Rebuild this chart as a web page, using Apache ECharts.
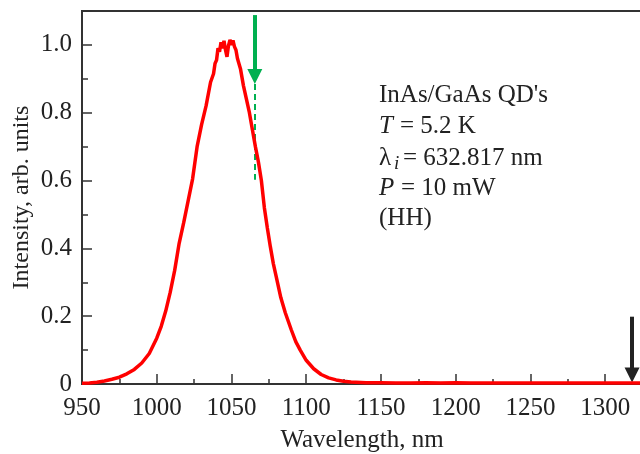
<!DOCTYPE html>
<html>
<head>
<meta charset="utf-8">
<script src="https://cdn.jsdelivr.net/npm/echarts@6/dist/echarts.min.js"></script>
<style>
html,body{margin:0;padding:0;background:#fff;}
#chart{width:640px;height:454px;}
</style>
</head>
<body>
<div id="chart"></div>
<script>
// ---- data ----
var wavelength = [950,955,960,965,970,975,980,985,990,995,1000,1003,1006,1009,1012,1015,1018,1021,1024,1027,1030,1033,1036,1038,1039,1040,1041,1042,1043,1044,1045,1046,1047,1048,1049,1050,1051,1052,1053,1054,1056,1058,1060,1062,1064,1066,1068,1070,1072,1074,1076,1078,1080,1083,1086,1090,1093,1096,1100,1105,1110,1115,1120,1125,1130,1140,1150,1160,1170,1180,1190,1200,1210,1220,1240,1260,1280,1300,1320,1330];
var intensity = [0.002,0.003,0.005,0.009,0.014,0.02,0.03,0.043,0.062,0.09,0.135,0.17,0.215,0.27,0.335,0.415,0.475,0.54,0.605,0.70,0.765,0.82,0.89,0.915,0.945,0.955,0.99,0.98,1.008,0.99,1.012,0.985,0.965,0.998,1.015,1.0,1.013,0.995,0.985,0.96,0.93,0.88,0.84,0.80,0.75,0.70,0.655,0.60,0.52,0.46,0.405,0.355,0.315,0.255,0.21,0.16,0.125,0.10,0.07,0.045,0.028,0.018,0.012,0.008,0.006,0.004,0.004,0.003,0.003,0.004,0.003,0.004,0.003,0.003,0.003,0.003,0.003,0.003,0.003,0.003];
var xTicks = [950,1000,1050,1100,1150,1200,1250,1300];
var yTicks = [0,0.2,0.4,0.6,0.8,1.0];
var yTickLabels = ['0','0.2','0.4','0.6','0.8','1.0'];
var annotLines = ["InAs/GaAs QD's", "T = 5.2 K", "\u03bbi = 632.817 nm", "P = 10 mW", "(HH)"];
var greenArrowX = 1065.6;
var blackArrowX = 1318;

var FONT = '"Liberation Serif","Times New Roman",serif';
var TXT = '#222';
var chart = echarts.init(document.getElementById('chart'), null, {renderer:'canvas'});

var pts = wavelength.map(function(w,i){return [w,intensity[i]];});

function lbl(txt, x, y, opts){
  opts = opts || {};
  return {type:'text', left:x, top:y, silent:true, z:50,
    style:{text:txt, font:(opts.italic?'italic ':'')+(opts.size||25)+'px '+FONT, fill:TXT}};
}

var option = {
  animation:false,
  backgroundColor:'#fff',
  grid:{left:82, top:11, bottom:70, right:-10, containLabel:false, outerBoundsMode:'none',
        show:true, borderColor:'#333', borderWidth:2, backgroundColor:'transparent'},
  xAxis:{
    type:'value', min:950, max:1330, interval:50,
    name:'Wavelength, nm', nameLocation:'middle', nameGap:44, nameMoveOverlap:false,
    nameTextStyle:{fontFamily:FONT, fontSize:25, color:TXT, padding:[0,8,0,0]},
    axisLine:{show:true, lineStyle:{color:'#333', width:2}},
    axisTick:{show:true, inside:true, length:10, lineStyle:{color:'#333', width:1.5}},
    minorTick:{show:true, splitNumber:2, length:5, lineStyle:{color:'#333', width:1.5}},
    splitLine:{show:false},
    axisLabel:{showMaxLabel:false, margin:12, fontFamily:FONT, fontSize:25, color:TXT,
      formatter:function(v){return xTicks.indexOf(v)>=0 ? String(v) : '';}}
  },
  yAxis:{
    type:'value', min:0, max:1.1, interval:0.2,
    name:'Intensity, arb. units', nameLocation:'middle', nameGap:48, nameMoveOverlap:false,
    nameTextStyle:{fontFamily:FONT, fontSize:24, color:TXT},
    axisLine:{show:true, lineStyle:{color:'#333', width:2}},
    axisTick:{show:true, inside:true, length:10, lineStyle:{color:'#333', width:1.5}},
    minorTick:{show:true, splitNumber:2, length:6, lineStyle:{color:'#333', width:1.5}},
    splitLine:{show:false},
    axisLabel:{showMaxLabel:false, margin:10, fontFamily:FONT, fontSize:25, color:TXT,
      formatter:function(v){
        for (var i=0;i<yTicks.length;i++){ if (Math.abs(yTicks[i]-v)<1e-6) return yTickLabels[i]; }
        return '';
      }}
  },
  series:[
    {type:'line', data:pts, showSymbol:false, symbol:'none', smooth:false, z:5,
     lineStyle:{color:'#ff0000', width:3.5}, clip:false,
     markLine:{silent:true, animation:false, label:{show:false}, symbol:['none','none'],
       data:[
         [{coord:[greenArrowX,1.088], symbol:'none'},{coord:[greenArrowX,0.907], symbol:'triangle', symbolSize:[15,15], symbolRotate:180}],
         [{coord:[greenArrowX,0.885], symbol:'none', lineStyle:{type:[6,4], width:2, color:'#00b050'}},{coord:[greenArrowX,0.602], symbol:'none'}],
         [{coord:[blackArrowX,0.1985], symbol:'none', lineStyle:{color:'#222', width:4}},{coord:[blackArrowX,0.0265], symbol:'triangle', symbolSize:[15,15]}]
       ],
       lineStyle:{color:'#00b050', width:4, type:'solid'},
       itemStyle:{color:'#00b050'}
     }
    }
  ],
  graphic:[
    lbl(annotLines[0], 379, 83),
    lbl('T', 379, 114, {italic:true}),
    lbl('= 5.2 K', 400, 114),
    lbl('\u03bb', 379, 146),
    lbl('i', 394, 154, {italic:true, size:19}),
    lbl('= 632.817 nm', 403, 146),
    lbl('P', 379, 176, {italic:true}),
    lbl('= 10 mW', 401, 176),
    lbl(annotLines[4], 379, 206)
  ]
};
chart.setOption(option);
</script>
</body>
</html>
